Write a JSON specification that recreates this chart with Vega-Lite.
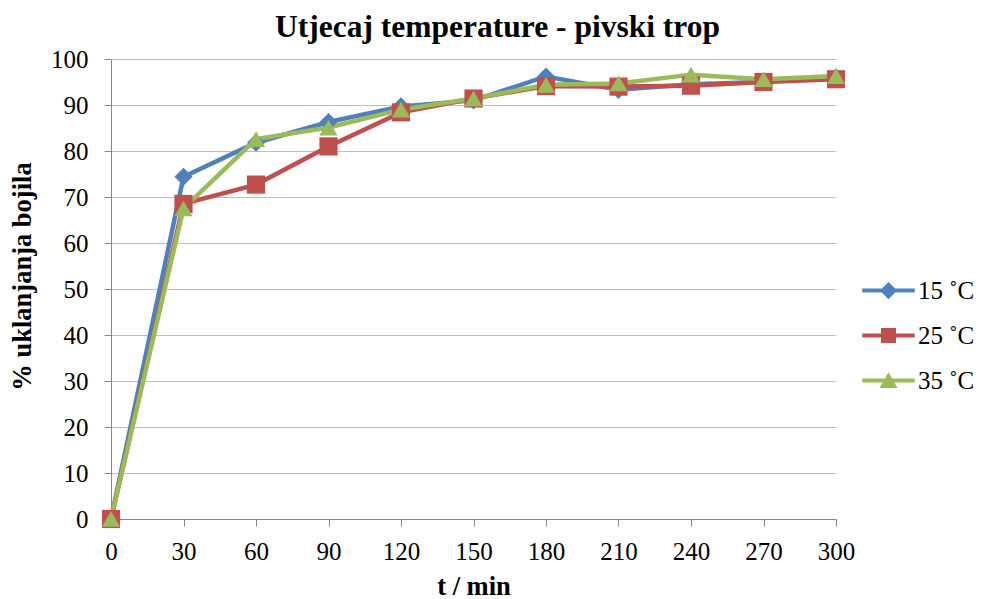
{
  "$schema": "https://vega.github.io/schema/vega-lite/v6.json",
  "width": 725,
  "height": 460,
  "autosize": {"type": "none"},
  "padding": {"left": 111, "top": 59, "right": 145, "bottom": 80},
  "background": "white",
  "title": {"text": "Utjecaj temperature - pivski trop", "font": "Times New Roman", "fontSize": 31.5, "fontWeight": "bold", "color": "black", "anchor": "middle", "offset": 4, "dx": 24},
  "config": {
    "view": {"stroke": null},
    "axis": {
      "labelFont": "Times New Roman", "labelFontSize": 25, "labelColor": "black", "labelFlush": false,
      "titleFont": "Times New Roman", "titleFontSize": 26.5, "titleFontWeight": "bold", "titleColor": "black",
      "domainColor": "#868686", "domainWidth": 1, "tickColor": "#868686", "tickSize": 7,
      "gridColor": "#BFBFBF", "gridWidth": 1.2
    },
    "legend": {"labelFont": "Times New Roman"}
  },
  "data": {"values": [
    {"t": 0, "v": 0, "s": "15 ˚C"}, {"t": 30, "v": 74.4, "s": "15 ˚C"}, {"t": 60, "v": 81.8, "s": "15 ˚C"}, {"t": 90, "v": 86.3, "s": "15 ˚C"}, {"t": 120, "v": 89.7, "s": "15 ˚C"}, {"t": 150, "v": 91.0, "s": "15 ˚C"}, {"t": 180, "v": 96.2, "s": "15 ˚C"}, {"t": 210, "v": 93.3, "s": "15 ˚C"}, {"t": 240, "v": 94.5, "s": "15 ˚C"}, {"t": 270, "v": 95.0, "s": "15 ˚C"}, {"t": 300, "v": 96.0, "s": "15 ˚C"},
    {"t": 0, "v": 0, "s": "25 ˚C"}, {"t": 30, "v": 68.5, "s": "25 ˚C"}, {"t": 60, "v": 72.7, "s": "25 ˚C"}, {"t": 90, "v": 81.0, "s": "25 ˚C"}, {"t": 120, "v": 88.4, "s": "25 ˚C"}, {"t": 150, "v": 91.4, "s": "25 ˚C"}, {"t": 180, "v": 94.1, "s": "25 ˚C"}, {"t": 210, "v": 94.0, "s": "25 ˚C"}, {"t": 240, "v": 94.2, "s": "25 ˚C"}, {"t": 270, "v": 95.0, "s": "25 ˚C"}, {"t": 300, "v": 95.6, "s": "25 ˚C"},
    {"t": 0, "v": 0, "s": "35 ˚C"}, {"t": 30, "v": 67.5, "s": "35 ˚C"}, {"t": 60, "v": 82.6, "s": "35 ˚C"}, {"t": 90, "v": 85.1, "s": "35 ˚C"}, {"t": 120, "v": 89.0, "s": "35 ˚C"}, {"t": 150, "v": 91.4, "s": "35 ˚C"}, {"t": 180, "v": 94.4, "s": "35 ˚C"}, {"t": 210, "v": 94.7, "s": "35 ˚C"}, {"t": 240, "v": 96.6, "s": "35 ˚C"}, {"t": 270, "v": 95.6, "s": "35 ˚C"}, {"t": 300, "v": 96.3, "s": "35 ˚C"}
  ]},
  "encoding": {
    "x": {"field": "t", "type": "quantitative", "scale": {"domain": [0, 300], "nice": false},
      "axis": {"values": [0, 30, 60, 90, 120, 150, 180, 210, 240, 270, 300], "grid": false, "title": "t / min", "labelPadding": 13, "labelFlush": false,
        "titleX": 362.5, "titleY": 75, "titleBaseline": "alphabetic", "titleAlign": "center"}},
    "y": {"field": "v", "type": "quantitative", "scale": {"domain": [0, 100], "nice": false},
      "axis": {"values": [0, 10, 20, 30, 40, 50, 60, 70, 80, 90, 100], "grid": true, "title": "% uklanjanja bojila", "labelPadding": 16, "labelFlush": false,
        "titleX": -89, "titleY": 217, "titleAngle": -90, "titleBaseline": "middle", "titleAlign": "center"}}
  },
  "layer": [
    {
      "mark": {"type": "line", "strokeWidth": 4.5},
      "encoding": {
        "color": {"field": "s", "type": "nominal", "scale": {"domain": ["15 ˚C", "25 ˚C", "35 ˚C"], "range": ["#4F81BD", "#C0504D", "#9BBB59"]}, "legend": null}
      }
    },
    {
      "mark": {"type": "point", "filled": true, "opacity": 1, "size": 330},
      "encoding": {
        "color": {"field": "s", "type": "nominal", "scale": {"domain": ["15 ˚C", "25 ˚C", "35 ˚C"], "range": ["#4F81BD", "#C0504D", "#9BBB59"]}, "legend": null},
        "shape": {"field": "s", "type": "nominal", "scale": {"domain": ["15 ˚C", "25 ˚C", "35 ˚C"], "range": ["diamond", "square", "triangle-up"]}, "legend": null}
      }
    },
    {
      "transform": [{"filter": "datum.t < 0"}],
      "mark": {"type": "point", "filled": true, "opacity": 1, "size": 225},
      "encoding": {
        "color": {"field": "s", "type": "nominal", "scale": {"domain": ["15 ˚C", "25 ˚C", "35 ˚C"], "range": ["#4F81BD", "#C0504D", "#9BBB59"]}, "legend": {
          "title": null, "orient": "none", "legendX": 765, "legendY": 219, "padding": 0,
          "symbolSize": 225, "symbolStrokeWidth": 0, "symbolOpacity": 1,
          "labelFont": "Times New Roman", "labelFontSize": 25, "labelColor": "black", "labelOffset": 17,
          "rowPadding": 19
        }},
        "shape": {"field": "s", "type": "nominal", "scale": {"domain": ["15 ˚C", "25 ˚C", "35 ˚C"], "range": [
          "M -3.5 -0.28 L 3.5 -0.28 L 3.5 0.28 L -3.5 0.28 Z M 0 -1.15 L 1.15 0 L 0 1.15 L -1.15 0 Z",
          "M -3.5 -0.28 L 3.5 -0.28 L 3.5 0.28 L -3.5 0.28 Z M -1 -1 L 1 -1 L 1 1 L -1 1 Z",
          "M -3.5 -0.28 L 3.5 -0.28 L 3.5 0.28 L -3.5 0.28 Z M 0 -1.1 L 1.2 1 L -1.2 1 Z"
        ]}, "legend": {
          "title": null, "orient": "none", "legendX": 765, "legendY": 219, "padding": 0,
          "symbolSize": 225, "symbolStrokeWidth": 0, "symbolOpacity": 1,
          "labelFont": "Times New Roman", "labelFontSize": 25, "labelColor": "black", "labelOffset": 17,
          "rowPadding": 19
        }}
      }
    }
  ],
  "resolve": {"scale": {"shape": "independent", "color": "independent"}}
}
